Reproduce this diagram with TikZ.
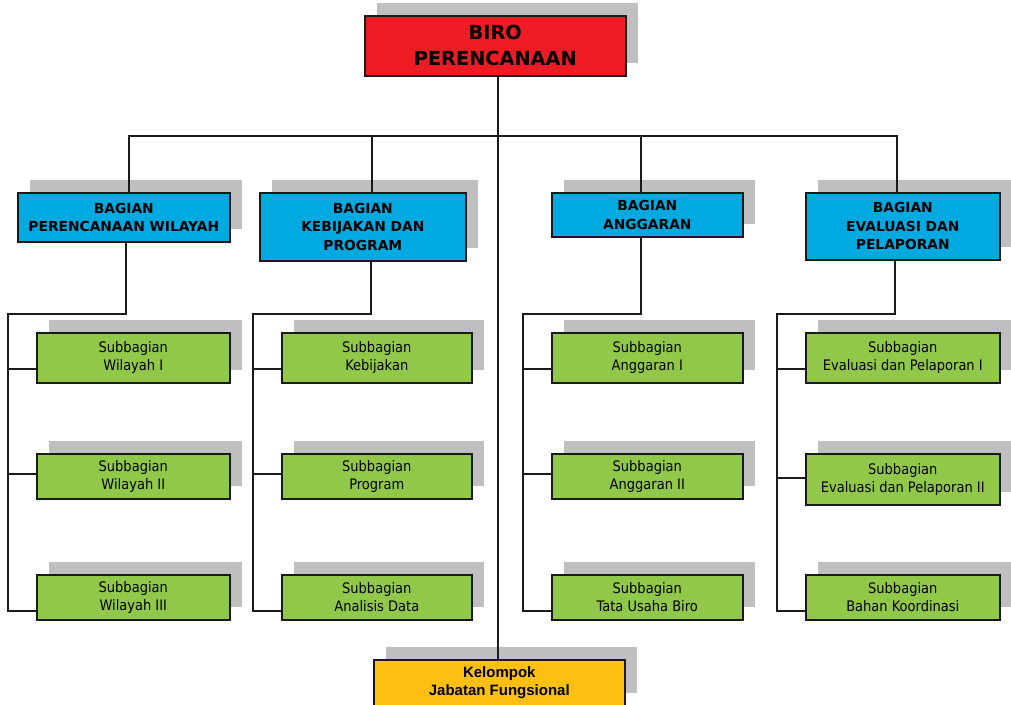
\documentclass[tikz,border=0pt]{standalone}
\usepackage{fontspec}
\setmainfont{DejaVu Sans Condensed}
\newfontfamily\hdfont{DejaVu Sans}
\newfontfamily\kelfont{Liberation Sans}
\usetikzlibrary{shadows}
\definecolor{birored}{RGB}{237,28,36}
\definecolor{bagblue}{RGB}{0,169,224}
\definecolor{subgreen}{RGB}{146,200,74}
\definecolor{kelorange}{RGB}{252,191,18}
\definecolor{shadowgray}{RGB}{191,191,191}
\definecolor{linec}{RGB}{26,26,26}
\newcommand\fBiro{\hdfont\bfseries\fontsize{19.3}{25.7}\selectfont}
\newcommand\fBag{\hdfont\bfseries\fontsize{13.8}{18.4}\selectfont}
\newcommand\fSub{\fontsize{14.5}{17.7}\selectfont}
\newcommand\fKel{\kelfont\bfseries\fontsize{15}{18.3}\selectfont}
\tikzset{
  orgbox/.style={draw=linec, line width=1.6pt, inner sep=0pt, anchor=north west, align=center, text=black,
    general shadow={fill=shadowgray, shadow xshift=12.5pt, shadow yshift=12.5pt}},
  birobox/.style={orgbox, fill=birored, font=\fBiro},
  bagbox/.style={orgbox, fill=bagblue, font=\fBag},
  subbox/.style={orgbox, fill=subgreen, font=\fSub},
  kelbox/.style={orgbox, fill=kelorange, font=\fKel},
  conn/.style={draw=linec, line width=1.5pt}
}
\begin{document}
\begin{tikzpicture}[x=1pt,y=-1pt]
\useasboundingbox (0,0) rectangle (1011,704);
% top
\node[birobox, minimum width=261pt, minimum height=60pt] (biro) at (364,15) {BIRO\\PERENCANAAN};
% bagian
\node[bagbox, minimum width=212pt, minimum height=49pt] (b1) at (17,192) {BAGIAN\\PERENCANAAN WILAYAH};
\node[bagbox, minimum width=206pt, minimum height=68pt] (b2) at (259,192) {BAGIAN\\KEBIJAKAN DAN\\PROGRAM};
\node[bagbox, minimum width=191pt, minimum height=44pt] (b3) at (551,192) {BAGIAN\\ANGGARAN};
\node[bagbox, minimum width=194pt, minimum height=67pt] (b4) at (805,192) {BAGIAN\\EVALUASI DAN\\PELAPORAN};
% subbagian col 1
\node[subbox, minimum width=193pt, minimum height=50pt] (s11) at (36,332) {Subbagian\\Wilayah I};
\node[subbox, minimum width=193pt, minimum height=45pt] (s12) at (36,453) {Subbagian\\Wilayah II};
\node[subbox, minimum width=193pt, minimum height=45pt] (s13) at (36,574) {Subbagian\\Wilayah III};
% col 2
\node[subbox, minimum width=190pt, minimum height=50pt] (s21) at (281,332) {Subbagian\\Kebijakan};
\node[subbox, minimum width=190pt, minimum height=45pt] (s22) at (281,453) {Subbagian\\Program};
\node[subbox, minimum width=190pt, minimum height=45pt] (s23) at (281,574) {Subbagian\\Analisis Data};
% col 3
\node[subbox, minimum width=191pt, minimum height=50pt] (s31) at (551,332) {Subbagian\\Anggaran I};
\node[subbox, minimum width=191pt, minimum height=45pt] (s32) at (551,453) {Subbagian\\Anggaran II};
\node[subbox, minimum width=191pt, minimum height=45pt] (s33) at (551,574) {Subbagian\\Tata Usaha Biro};
% col 4
\node[subbox, minimum width=194pt, minimum height=50pt] (s41) at (805,332) {Subbagian\\Evaluasi dan Pelaporan I};
\node[subbox, minimum width=194pt, minimum height=51pt] (s42) at (805,453) {Subbagian\\Evaluasi dan Pelaporan II};
\node[subbox, minimum width=194pt, minimum height=45pt] (s43) at (805,574) {Subbagian\\Bahan Koordinasi};
% kelompok
\node[kelbox, minimum width=251pt, minimum height=46pt] (kel) at (373,659) {Kelompok\\Jabatan Fungsional};
% coordinates
\coordinate (cx) at (498,136);
\coordinate (busL) at (129,136);
\coordinate (busR) at (897,136);
\coordinate (d2) at (372,136);
\coordinate (d3) at (641,136);
\coordinate (t1) at (126,314); \coordinate (l1) at (8,314);
\coordinate (t2) at (371,314); \coordinate (l2) at (253,314);
\coordinate (t3) at (641,314); \coordinate (l3) at (523,314);
\coordinate (t4) at (895,314); \coordinate (l4) at (777,314);
\coordinate (r1) at (0,369);
\coordinate (r2) at (0,474);
\coordinate (r2b) at (0,478);
\coordinate (r3) at (0,611);
% top connectors
\draw[conn] (biro.south -| cx) -- (kel.north -| cx);
\draw[conn] (b1.north -| busL) -- (busL) -- (busR) -- (b4.north -| busR);
\draw[conn] (d2) -- (d2 |- b2.north);
\draw[conn] (d3) -- (d3 |- b3.north);
% column trees
\draw[conn] (t1 |- b1.south) -- (t1) -- (l1) |- (s13.west |- r3);
\draw[conn] (l1 |- r1) -- (s11.west |- r1);
\draw[conn] (l1 |- r2) -- (s12.west |- r2);
\draw[conn] (t2 |- b2.south) -- (t2) -- (l2) |- (s23.west |- r3);
\draw[conn] (l2 |- r1) -- (s21.west |- r1);
\draw[conn] (l2 |- r2) -- (s22.west |- r2);
\draw[conn] (t3 |- b3.south) -- (t3) -- (l3) |- (s33.west |- r3);
\draw[conn] (l3 |- r1) -- (s31.west |- r1);
\draw[conn] (l3 |- r2) -- (s32.west |- r2);
\draw[conn] (t4 |- b4.south) -- (t4) -- (l4) |- (s43.west |- r3);
\draw[conn] (l4 |- r1) -- (s41.west |- r1);
\draw[conn] (l4 |- r2b) -- (s42.west |- r2b);
\end{tikzpicture}
\end{document}
